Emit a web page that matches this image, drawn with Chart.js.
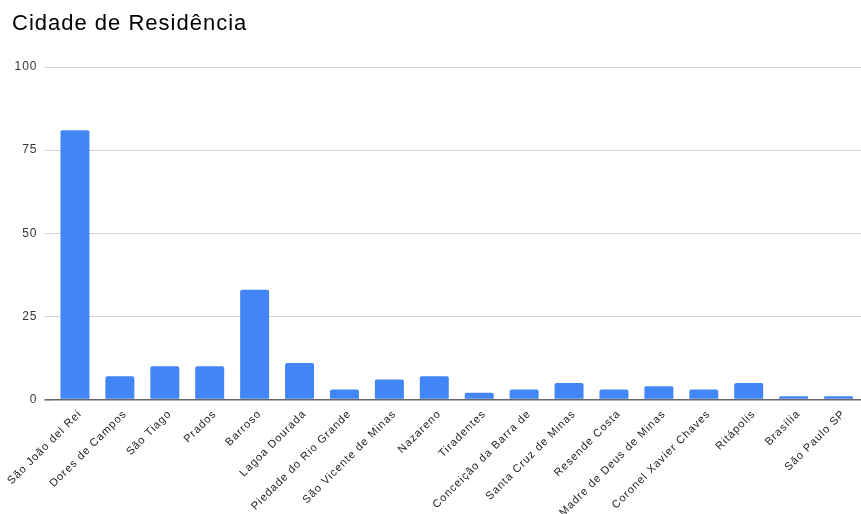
<!DOCTYPE html>
<html>
<head>
<meta charset="utf-8">
<script src="https://cdn.jsdelivr.net/npm/chart.js@4/dist/chart.umd.min.js"></script>
<style>
  html, body { margin: 0; padding: 0; background: #fff; overflow: hidden; }
  #wrap { width: 861px; height: 514px; }
</style>
</head>
<body>
<div id="wrap"><canvas id="c" width="861" height="514"></canvas></div>
<script>
const chartTitle = 'Cidade de Residência';

const cities = [
  'São João del Rei', 'Dores de Campos', 'São Tiago', 'Prados', 'Barroso',
  'Lagoa Dourada', 'Piedade do Rio Grande', 'São Vicente de Minas', 'Nazareno',
  'Tiradentes', 'Conceição da Barra de', 'Santa Cruz de Minas', 'Resende Costa',
  'Madre de Deus de Minas', 'Coronel Xavier Chaves', 'Ritápolis', 'Brasília',
  'São Paulo SP'
];

const residents = [81, 7, 10, 10, 33, 11, 3, 6, 7, 2, 3, 5, 3, 4, 3, 5, 1, 1];

const yTicks = [0, 25, 50, 75, 100];

const barColor = '#4285F4';
const fontFamily = "'Liberation Sans', Arial, sans-serif";

// Slightly looser tracking for all canvas text (title, axis labels).
const trackingPlugin = {
  id: 'tracking',
  beforeInit(chart) { chart.ctx.letterSpacing = '1px'; },
  beforeUpdate(chart) { chart.ctx.letterSpacing = '1px'; },
  beforeDraw(chart) { chart.ctx.letterSpacing = '1px'; }
};

new Chart(document.getElementById('c'), {
  type: 'bar',
  plugins: [trackingPlugin],
  data: {
    labels: cities,
    datasets: [{
      data: residents,
      backgroundColor: barColor,
      borderRadius: { topLeft: 2, topRight: 2 },
      borderSkipped: 'bottom',
      barPercentage: 0.645,
      categoryPercentage: 1
    }]
  },
  options: {
    responsive: false,
    animation: false,
    layout: { padding: { left: 12, right: 0, top: 0, bottom: 0 } },
    plugins: {
      legend: { display: false },
      tooltip: { enabled: false },
      title: {
        display: true,
        text: chartTitle,
        align: 'start',
        color: '#000',
        font: { family: fontFamily, size: 22, weight: 'normal', lineHeight: 1.2 },
        padding: { top: 10.5, bottom: 30.1 }
      }
    },
    scales: {
      x: {
        grid: { display: false, drawTicks: false },
        border: { display: false },
        ticks: {
          autoSkip: false,
          maxRotation: 45,
          minRotation: 45,
          padding: 8,
          labelOffset: 5,
          color: '#222',
          font: { family: fontFamily, size: 11 }
        },
        afterFit(scale) {
          scale.height = 114.5;
          scale.paddingLeft = 0;
          scale.paddingRight = 0;
        }
      },
      y: {
        min: 0,
        max: 100,
        afterBuildTicks(scale) {
          scale.ticks = yTicks.map(v => ({ value: v }));
        },
        grid: {
          color: ctx => (ctx.tick && ctx.tick.value === 0 ? '#666' : '#d4d4d4'),
          lineWidth: ctx => (ctx.tick && ctx.tick.value === 0 ? 1.6 : 1),
          tickLength: 8,
          drawTicks: true
        },
        border: { display: false },
        ticks: {
          padding: 7,
          color: '#333',
          font: { family: fontFamily, size: 12 }
        },
        afterFit(scale) {
          scale.width = 40.5;
          scale.paddingTop = 0;
          scale.paddingBottom = 0;
        }
      }
    }
  }
});
</script>
</body>
</html>
